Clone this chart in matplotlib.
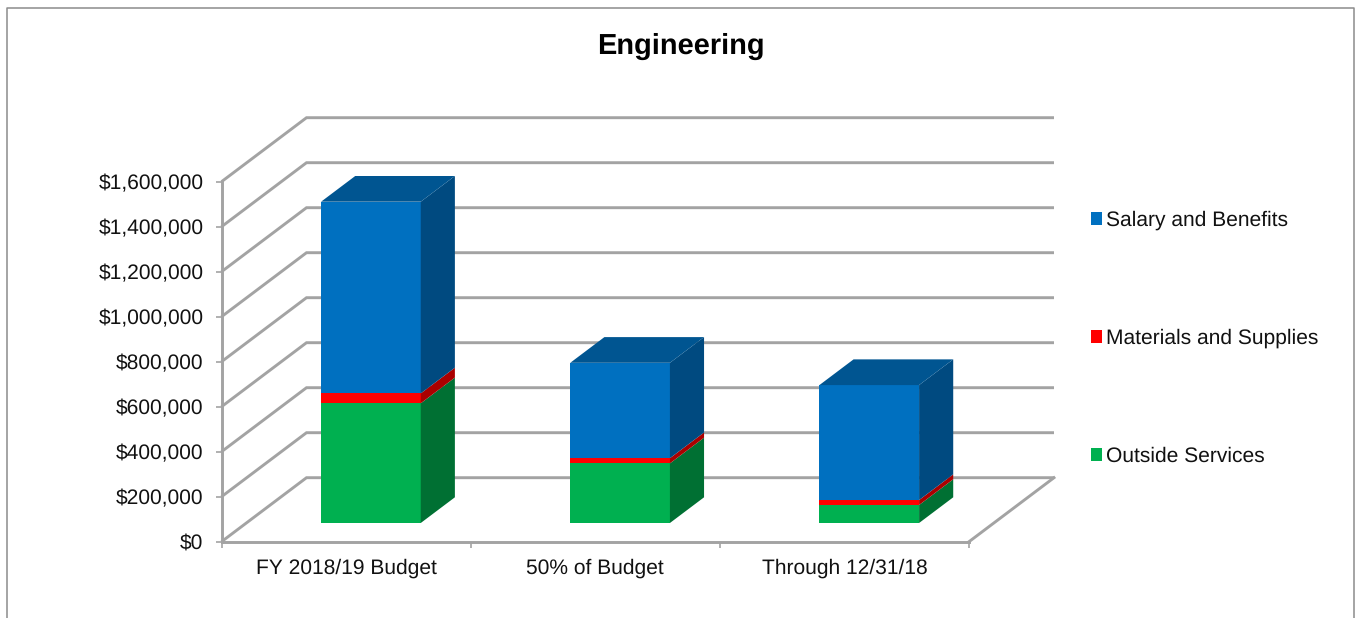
import matplotlib
matplotlib.use("Agg")
import matplotlib.pyplot as plt
from matplotlib.lines import Line2D
from matplotlib.patches import Patch
from matplotlib.ticker import FuncFormatter

categories = ["FY 2018/19 Budget", "50% of Budget", "Through 12/31/18"]
outside_services = [532000, 265000, 80000]
materials_supplies = [44000, 23000, 22000]
salary_benefits = [852000, 424000, 511000]
y_ticks = [0, 200000, 400000, 600000, 800000, 1000000, 1200000, 1400000, 1600000]

# stacked from the floor up: name, front, side, top colour
series = [
    ("Outside Services", outside_services, "#00B050", "#007033", "#008A3F"),
    ("Materials and Supplies", materials_supplies, "#FF0000", "#AA0000", "#CC0000"),
    ("Salary and Benefits", salary_benefits, "#0070C0", "#004A80", "#005591"),
]

W, H = 1356, 618
GRID = "#A3A3A3"
FONT = ["Liberation Sans", "DejaVu Sans"]
plt.rcParams["font.family"] = FONT
plt.rcParams["text.hinting"] = "no_hinting"
plt.rcParams["text.hinting_factor"] = 1

fig = plt.figure(figsize=(W / 100, H / 100), dpi=100)
left, right, top, bottom = 221.5, 969, 181.7, 541.7
ax = fig.add_axes([left / W, 1 - bottom / H, (right - left) / W, (bottom - top) / H])
ax.set_xlim(-0.5, 2.5)
ax.set_ylim(0, 1600000)

# oblique depth of the chart box, in data units
px_x = (right - left) / 3
px_y = (bottom - top) / 1600000
depth_x = 85 / px_x
depth_y = 64 / px_y

# bars occupy this slice of the depth
d0 = 18.7 / 64
d1 = 44.4 / 64
bar_w = 0.4


def shift(x, v, d):
    return x + d * depth_x, v + d * depth_y


# back wall and left wall grid
for v in y_ticks:
    x0, y0 = shift(-0.5, v, 0)
    x1, y1 = shift(-0.5, v, 1)
    x2, y2 = shift(2.5, v, 1)
    ax.plot([x0, x1, x2], [y0, y1, y2], color=GRID, lw=2.1, clip_on=False, zorder=1,
            solid_joinstyle="miter", solid_capstyle="butt")
x0, y0 = shift(2.5, 0, 0)
x1, y1 = shift(2.5, 0, 1)
ax.plot([x0, x1], [y0, y1], color=GRID, lw=2.1, clip_on=False, zorder=1)

# stacked 3d bars
base = [0, 0, 0]
for name, values, front, side, cap in series:
    for i, val in enumerate(values):
        xl = i - bar_w / 2
        xr = i + bar_w / 2
        b = base[i]
        t = b + val
        fx, fy = shift(xl, b, d0)
        gx, _ = shift(xr, b, d0)
        ax.bar(fx, val, width=gx - fx, bottom=fy, align="edge", color=front,
               clip_on=False, zorder=3, linewidth=0)
        pts = [shift(xr, b, d0), shift(xr, b, d1), shift(xr, t, d1), shift(xr, t, d0)]
        ax.fill([p[0] for p in pts], [p[1] for p in pts], color=side, lw=0,
                clip_on=False, zorder=3)
        base[i] = t
    # only the highest segment shows its top face
    if name == "Salary and Benefits":
        for i, t in enumerate(base):
            xl = i - bar_w / 2
            xr = i + bar_w / 2
            pts = [shift(xl, t, d0), shift(xr, t, d0), shift(xr, t, d1), shift(xl, t, d1)]
            ax.fill([p[0] for p in pts], [p[1] for p in pts], color=cap, lw=0,
                    clip_on=False, zorder=3)

# axes
for s in ["top", "right"]:
    ax.spines[s].set_visible(False)
for s in ["left", "bottom"]:
    ax.spines[s].set_color(GRID)
    ax.spines[s].set_linewidth(2.1)
ax.set_yticks(y_ticks)
ax.yaxis.set_major_formatter(FuncFormatter(lambda v, _: f"${v:,.0f}"))
ax.set_xticks([-0.5, 0.5, 1.5, 2.5])
ax.set_xticklabels([])
ax.set_xticks([0, 1, 2], minor=True)
ax.set_xticklabels(categories, minor=True)
ax.tick_params(axis="y", length=4, width=1.2, color=GRID, labelsize=15.4, pad=9,
               labelcolor="#111111")
ax.tick_params(axis="x", which="major", length=4, width=1.2, color=GRID)
ax.tick_params(axis="x", which="minor", length=0, labelsize=15.4, pad=12,
               labelcolor="#111111")

fig.text(680.5 / W, 1 - 46 / H, "Engineering", ha="center", va="center",
         fontsize=21, fontweight="bold", color="black")

handles = [Patch(color=s[2], lw=0, label=s[0]) for s in reversed(series)]
fig.legend(handles=handles, loc="center left", bbox_to_anchor=(1091 / W, 1 - 338.5 / H),
           frameon=False, fontsize=15.4, handlelength=0.52, handleheight=0.52,
           handletextpad=0.2, labelspacing=4.6, borderpad=0, borderaxespad=0,
           labelcolor="#111111")

# thin frame round the chart, open at the bottom edge
frame = Line2D([6.5 / W, 6.5 / W, 1354 / W, 1354 / W],
               [0, 1 - 7.5 / H, 1 - 7.5 / H, 0],
               transform=fig.transFigure, color="#8C8C8C", lw=1.1)
fig.add_artist(frame)

fig.savefig("out.png", dpi=100)
